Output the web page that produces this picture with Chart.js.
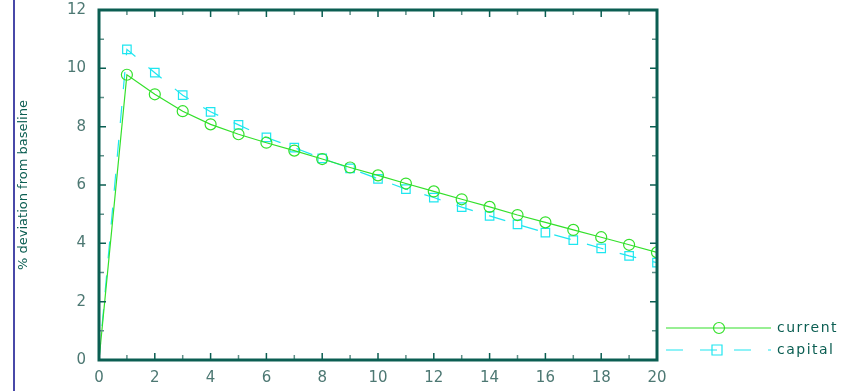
<!DOCTYPE html>
<html lang="en">
<head>
<meta charset="UTF-8">
<title>deviation from baseline</title>
<script src="https://cdn.jsdelivr.net/npm/chart.js"></script>
<style>
  html, body { margin: 0; padding: 0; background: #fff; }
  #wrap { width: 856px; height: 391px; }
</style>
</head>
<body>
<div id="wrap"><canvas id="chart"></canvas></div>
<script>
    // periods 0..20
    var periods = [0, 1, 2, 3, 4, 5, 6, 7, 8, 9, 10, 11, 12, 13, 14, 15, 16, 17, 18, 19, 20];
    var current = [0, 9.78, 9.11, 8.53, 8.08, 7.74, 7.45, 7.18, 6.89, 6.60, 6.33, 6.05, 5.78, 5.51, 5.25, 4.97, 4.72, 4.46, 4.21, 3.95, 3.69];
    var capital = [0, 10.65, 9.85, 9.08, 8.51, 8.06, 7.63, 7.28, 6.91, 6.57, 6.21, 5.86, 5.57, 5.24, 4.94, 4.65, 4.37, 4.11, 3.83, 3.57, 3.34];
    var seriesNames = ['current', 'capital'];
    var yTitle = '% deviation from baseline';

    var axisColor = '#0b5e52';
    var tickLabelColor = '#4d7873';

    function toPoints(arr) {
        return arr.map(function (v, i) { return { x: periods[i], y: v }; });
    }

    // frame, inward ticks, left rule and legend
    var framePlugin = {
        id: 'frame',
        afterDraw: function (chart) {
            var ctx = chart.ctx;
            var a = chart.chartArea;
            var xs = chart.scales.x, ys = chart.scales.y;
            ctx.save();

            // blue rule on the left
            ctx.strokeStyle = '#4848a8';
            ctx.lineWidth = 2;
            ctx.beginPath();
            ctx.moveTo(14, 0);
            ctx.lineTo(14, 391);
            ctx.stroke();

            // ticks
            for (var i = 0; i <= 20; i++) {
                var px = xs.getPixelForValue(i);
                var len = i % 2 === 0 ? 7 : 5;
                ctx.strokeStyle = i % 2 === 0 ? axisColor : '#5f8f88';
                ctx.lineWidth = 1.5;
                ctx.beginPath();
                ctx.moveTo(px, a.bottom); ctx.lineTo(px, a.bottom - len);
                ctx.moveTo(px, a.top); ctx.lineTo(px, a.top + len);
                ctx.stroke();
            }
            for (var j = 0; j <= 12; j++) {
                var py = ys.getPixelForValue(j);
                var l2 = j % 2 === 0 ? 7 : 5;
                ctx.strokeStyle = j % 2 === 0 ? axisColor : '#5f8f88';
                ctx.lineWidth = 1.5;
                ctx.beginPath();
                ctx.moveTo(a.left, py); ctx.lineTo(a.left + l2, py);
                ctx.moveTo(a.right, py); ctx.lineTo(a.right - l2, py);
                ctx.stroke();
            }

            // box
            ctx.strokeStyle = axisColor;
            ctx.lineWidth = 3;
            ctx.strokeRect(a.left, a.top, a.right - a.left, a.bottom - a.top);

            // legend
            var rows = [328, 350];
            chart.data.datasets.forEach(function (ds, k) {
                var y = rows[k];
                ctx.strokeStyle = ds.borderColor;
                ctx.lineWidth = 1.2;
                ctx.setLineDash(ds.borderDash || []);
                ctx.beginPath();
                ctx.moveTo(666, y); ctx.lineTo(771, y);
                ctx.stroke();
                ctx.setLineDash([]);
                ctx.beginPath();
                if (ds.pointStyle === 'rect') {
                    ctx.rect(712, y - 5, 10, 10);
                } else {
                    ctx.arc(719, y, 5.5, 0, Math.PI * 2);
                }
                ctx.stroke();
                ctx.fillStyle = axisColor;
                ctx.font = '14px "DejaVu Sans"';
                ctx.letterSpacing = '1.5px';
                ctx.textBaseline = 'middle';
                ctx.textAlign = 'left';
                ctx.fillText(ds.label, 777, y);
            });
            ctx.restore();
        }
    };

    new Chart(document.getElementById('chart'), {
        type: 'line',
        data: {
            datasets: [{
                label: seriesNames[0],
                data: toPoints(current),
                borderColor: '#33e02a',
                borderWidth: 1.2,
                pointStyle: 'circle',
                pointRadius: function (c) { return c.dataIndex === 0 ? 0 : 5.5; },
                pointBorderWidth: 1.2,
                pointBackgroundColor: 'rgba(0,0,0,0)',
                pointBorderColor: '#33e02a',
                tension: 0
            }, {
                label: seriesNames[1],
                data: toPoints(capital),
                borderColor: '#1ee6f0',
                borderWidth: 1.2,
                borderDash: [17, 17],
                pointStyle: 'rect',
                pointRadius: function (c) { return c.dataIndex === 0 ? 0 : 6; },
                pointBorderWidth: 1.2,
                pointBackgroundColor: 'rgba(0,0,0,0)',
                pointBorderColor: '#1ee6f0',
                tension: 0
            }]
        },
        options: {
            responsive: true,
            maintainAspectRatio: false,
            animation: false,
            layout: { padding: { left: 0, top: 10, right: 199, bottom: 0 } },
            plugins: {
                legend: { display: false },
                tooltip: { enabled: false }
            },
            scales: {
                x: {
                    type: 'linear',
                    min: 0, max: 20,
                    grid: { display: false, drawTicks: false },
                    border: { display: false },
                    ticks: {
                        stepSize: 2,
                        padding: 9,
                        color: tickLabelColor,
                        font: { family: 'DejaVu Sans', size: 15 }
                    },
                    afterFit: function (s) { s.height = 31; s.paddingLeft = 0; s.paddingRight = 0; }
                },
                y: {
                    min: 0, max: 12,
                    grid: { display: false, drawTicks: false },
                    border: { display: false },
                    ticks: {
                        stepSize: 2,
                        padding: 13,
                        color: tickLabelColor,
                        font: { family: 'DejaVu Sans', size: 15 }
                    },
                    title: {
                        display: true,
                        text: yTitle,
                        color: axisColor,
                        font: { family: 'DejaVu Sans', size: 13 },
                        padding: { top: 16, bottom: 0 }
                    },
                    afterFit: function (s) { s.width = 99; s.paddingTop = 0; s.paddingBottom = 0; }
                }
            }
        },
        plugins: [framePlugin]
    });
</script>
</body>
</html>
